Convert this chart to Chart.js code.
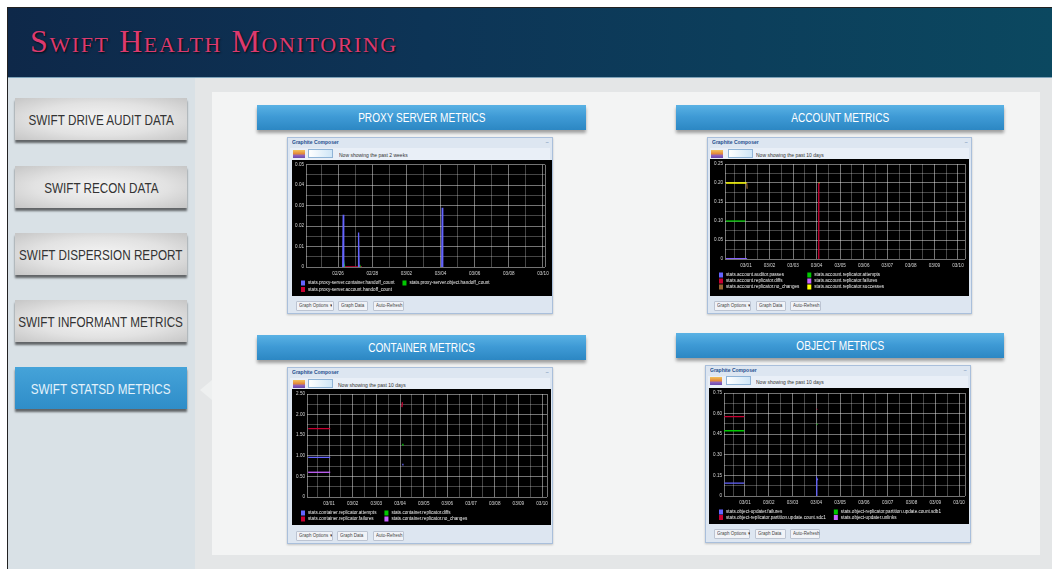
<!DOCTYPE html>
<html><head><meta charset="utf-8">
<script src="https://cdn.jsdelivr.net/npm/chart.js@4"></script>
<style>
html,body{margin:0;padding:0;}
body{width:1052px;height:569px;position:relative;overflow:hidden;background:#fff;font-family:"Liberation Sans",Arial,sans-serif;}
.abs{position:absolute;}
#frame{left:7px;top:7px;width:1045px;height:562px;border-left:1px solid #222;border-top:1px solid #222;box-sizing:border-box;}
#header{left:8px;top:8px;width:1044px;height:69px;background:linear-gradient(90deg,#0e2849 0%,#0d3456 40%,#0b4860 100%);border-bottom:1px solid #7ea3ba;}
#title{left:30px;top:25px;font-family:"Liberation Serif","DejaVu Serif",serif;font-variant:small-caps;font-size:32px;line-height:1;color:#dc3a6f;letter-spacing:1.6px;text-shadow:1px 1px 2px rgba(0,0,0,.8);white-space:nowrap;}
#sidebar{left:8px;top:78px;width:187px;height:491px;background:#d9e1e6;}
#main{left:195px;top:78px;width:857px;height:491px;background:#e4e6e7;}
#panel{left:212px;top:92px;width:828px;height:463px;background:#f3f4f4;}
#arrow{left:200px;top:380px;width:0;height:0;border-top:10px solid transparent;border-bottom:10px solid transparent;border-right:12px solid #eef0f0;}
.btn{left:15px;width:172px;height:42px;background:radial-gradient(ellipse at center,#f4f4f4 0%,#e2e2e2 55%,#c6c6c6 100%);box-shadow:0 3px 2px rgba(0,0,0,.55);display:flex;align-items:center;justify-content:center;}
.btn span{display:block;font-size:15px;color:#333;transform:scaleX(0.78);white-space:nowrap;}
.btn.sel{background:linear-gradient(#45a3d9,#2f8dc8);}
.btn.sel span{color:#e4f2fb;}
.rib{height:25px;background:linear-gradient(#5ab2e4 0%,#3f9bd6 45%,#2c87c3 100%);box-shadow:0 3px 3px rgba(0,0,0,.35);display:flex;align-items:center;justify-content:center;}
.rib span{display:block;color:#fff;font-size:12px;transform:scaleX(0.84);white-space:nowrap;}
.win{background:#dde6f1;border:1px solid #a9bfdb;box-sizing:border-box;box-shadow:0 1px 2px rgba(0,0,0,.2);}
.wt{position:absolute;left:4px;top:1px;font-size:10px;font-weight:bold;color:#1f4f8e;transform:scale(.5);transform-origin:0 0;white-space:nowrap;}
.wx{position:absolute;right:3px;top:1px;font-size:10px;color:#5a7eaa;transform:scale(.5);transform-origin:100% 0;}
.tb{position:absolute;left:2px;right:2px;top:10px;height:12px;background:#e9eff7;}
.ic1{position:absolute;width:12px;height:8px;background:linear-gradient(#f3c25a 0%,#e48a3a 45%,#8a5fc0 70%,#6a4aa8 100%);}
.ic2{position:absolute;width:25px;height:9px;background:linear-gradient(90deg,#ffffff,#cfe6f7);border:1px solid #8fb3d6;box-sizing:border-box;}
.tt{position:absolute;font-size:10px;color:#333;transform:scale(.5);transform-origin:0 0;white-space:nowrap;}
.gb{position:absolute;height:10px;background:#f1f3f7;border:1px solid #bcc4d2;box-sizing:border-box;border-radius:1px;}
.gb span{position:absolute;left:2px;top:1px;font-size:10px;color:#444;transform:scale(.45);transform-origin:0 0;white-space:nowrap;}
canvas{position:absolute;background:#000;}
</style></head>
<body>
<div id="frame" class="abs"></div>
<div id="header" class="abs"></div>
<div id="title" class="abs">Swift Health Monitoring</div>
<div id="sidebar" class="abs"></div>
<div id="main" class="abs"></div>
<div id="panel" class="abs"></div>
<div id="arrow" class="abs"></div>

<div class="abs btn" style="top:98px"><span>SWIFT DRIVE AUDIT DATA</span></div>
<div class="abs btn" style="top:166px"><span>SWIFT RECON DATA</span></div>
<div class="abs btn" style="top:233px"><span>SWIFT DISPERSION REPORT</span></div>
<div class="abs btn" style="top:300px"><span>SWIFT INFORMANT METRICS</span></div>
<div class="abs btn sel" style="top:367px"><span>SWIFT STATSD METRICS</span></div>

<div class="abs rib" style="left:257px;top:105px;width:329px"><span>PROXY SERVER METRICS</span></div>
<div class="abs rib" style="left:676px;top:105px;width:328px"><span>ACCOUNT METRICS</span></div>
<div class="abs rib" style="left:257px;top:335px;width:329px"><span>CONTAINER METRICS</span></div>
<div class="abs rib" style="left:676px;top:333px;width:328px"><span>OBJECT METRICS</span></div>

<!-- windows -->
<div class="abs win" style="left:287px;top:137px;width:266px;height:177px">
  <div class="wt">Graphite Composer</div><div class="wx">–</div>
  <div class="tb"></div>
  <div class="ic1" style="left:5px;top:12px"></div><div class="ic2" style="left:20px;top:11px"></div>
  <div class="tt" style="left:51px;top:14px">Now showing the past 2 weeks</div>
  <div class="gb" style="left:8px;top:163px;width:38px"><span>Graph Options ▾</span></div>
  <div class="gb" style="left:50px;top:163px;width:30px"><span>Graph Data</span></div>
  <div class="gb" style="left:85px;top:163px;width:31px"><span>Auto-Refresh</span></div>
</div>
<div class="abs win" style="left:707px;top:137px;width:265px;height:177px">
  <div class="wt">Graphite Composer</div><div class="wx">–</div>
  <div class="tb"></div>
  <div class="ic1" style="left:3px;top:12px"></div><div class="ic2" style="left:20px;top:11px"></div>
  <div class="tt" style="left:48px;top:14px">Now showing the past 10 days</div>
  <div class="gb" style="left:6px;top:163px;width:37px"><span>Graph Options ▾</span></div>
  <div class="gb" style="left:48px;top:163px;width:30px"><span>Graph Data</span></div>
  <div class="gb" style="left:82px;top:163px;width:31px"><span>Auto-Refresh</span></div>
</div>
<div class="abs win" style="left:287px;top:367px;width:266px;height:177px">
  <div class="wt">Graphite Composer</div><div class="wx">–</div>
  <div class="tb"></div>
  <div class="ic1" style="left:5px;top:12px"></div><div class="ic2" style="left:20px;top:11px"></div>
  <div class="tt" style="left:50px;top:14px">Now showing the past 10 days</div>
  <div class="gb" style="left:8px;top:163px;width:37px"><span>Graph Options ▾</span></div>
  <div class="gb" style="left:49px;top:163px;width:31px"><span>Graph Data</span></div>
  <div class="gb" style="left:85px;top:163px;width:31px"><span>Auto-Refresh</span></div>
</div>
<div class="abs win" style="left:705px;top:365px;width:266px;height:178px">
  <div class="wt">Graphite Composer</div><div class="wx">–</div>
  <div class="tb"></div>
  <div class="ic1" style="left:4px;top:11px"></div><div class="ic2" style="left:20px;top:10px"></div>
  <div class="tt" style="left:50px;top:13px">Now showing the past 10 days</div>
  <div class="gb" style="left:8px;top:163px;width:36px"><span>Graph Options ▾</span></div>
  <div class="gb" style="left:49px;top:163px;width:31px"><span>Graph Data</span></div>
  <div class="gb" style="left:84px;top:163px;width:30px"><span>Auto-Refresh</span></div>
</div>

<canvas id="cProxy" width="260" height="136" style="left:292px;top:160px"></canvas>
<canvas id="cAccount" width="259" height="137" style="left:710px;top:159px"></canvas>
<canvas id="cContainer" width="259" height="136" style="left:292px;top:389px"></canvas>
<canvas id="cObject" width="260" height="136" style="left:709px;top:388px"></canvas>

<script>
// ================= DATA =================
// x values are day numbers (02/26 = 2 ... 03/10 = 14 for proxy; 03/01 = 1 ... 03/10 = 10 for others)
const proxyXTickDays   = [2, 4, 6, 8, 10, 12, 14];
const proxyXTickLabels = ['02/26', '02/28', '03/02', '03/04', '03/06', '03/08', '03/10'];
const proxyYTickValues = [0, 0.01, 0.02, 0.03, 0.04, 0.05];
const proxyYTickLabels = ['0', '0.01', '0.02', '0.03', '0.04', '0.05'];
const proxySeriesLabels = [
  'stats.proxy-server.container.handoff_count',
  'stats.proxy-server.object.handoff_count',
  'stats.proxy-server.account.handoff_count'
];
const proxyContainerHandoff = [[2.27,0],[2.3,0.0256],[2.33,0],[2.8,null],[3.17,0],[3.2,0.0169],[3.23,0],[5,null],[8.07,0],[8.1,0.029],[8.13,0]];
const proxyObjectHandoff    = [[2.33,0],[2.35,0.0012],[2.37,0],[2.8,null],[3.25,0],[3.27,0.001],[3.29,0]];
const proxyAccountHandoff   = [[2.25,0],[3.4,0]];

const tenDayXTickDays   = [1, 2, 3, 4, 5, 6, 7, 8, 9, 10];
const tenDayXTickLabels = ['03/01', '03/02', '03/03', '03/04', '03/05', '03/06', '03/07', '03/08', '03/09', '03/10'];

const accountYTickValues = [0, 0.05, 0.10, 0.15, 0.20, 0.25];
const accountYTickLabels = ['0', '0.05', '0.10', '0.15', '0.20', '0.25'];
const accountSeriesLabels = [
  'stats.account.auditor.passes',
  'stats.account.replicator.attempts',
  'stats.account.replicator.diffs',
  'stats.account.replicator.failures',
  'stats.account.replicator.no_changes',
  'stats.account.replicator.successes'
];
const accountAuditorPasses     = [[0.15,0],[1.05,0]];
const accountReplAttempts      = [[0.15,0.10],[0.97,0.10]];
const accountReplDiffs         = [[4.07,0],[4.09,0.2]];
const accountReplFailures      = [[0.15,0.001],[1.03,0.001]];
const accountReplNoChanges     = [[1.03,0.2],[1.05,0.185]];
const accountReplSuccesses     = [[0.15,0.2],[1.03,0.2],[2,null],[4.09,0.2],[4.12,0.2]];

const containerYTickValues = [0, 0.5, 1.0, 1.5, 2.0, 2.5];
const containerYTickLabels = ['0', '0.50', '1.00', '1.50', '2.00', '2.50'];
const containerSeriesLabels = [
  'stats.container.replicator.attempts',
  'stats.container.replicator.diffs',
  'stats.container.replicator.failures',
  'stats.container.replicator.no_changes'
];
const containerReplAttempts  = [[0.12,0.96],[1.05,0.96],[2,null],[4.1,0.78],[4.12,0.81]];
const containerReplDiffs     = [[4.1,1.26],[4.12,1.29]];
const containerReplFailures  = [[0.12,1.66],[1.05,1.66],[2,null],[4.08,2.18],[4.1,2.3]];
const containerReplNoChanges = [[0.12,0.6],[1.05,0.6]];

const objectYTickValues = [0, 0.15, 0.30, 0.45, 0.60, 0.75];
const objectYTickLabels = ['0', '0.15', '0.30', '0.45', '0.60', '0.75'];
const objectSeriesLabels = [
  'stats.object-updater.failures',
  'stats.object-replicator.partition.update.count.sdb1',
  'stats.object-replicator.partition.update.count.sdc1',
  'stats.object-updater.unlinks'
];
const objectUpdaterFailures = [[0.13,0.094],[0.97,0.094],[2,null],[4.0,0],[4.02,0.13],[4.06,0.115]];
const objectSdb1            = [[0.13,0.475],[0.97,0.475],[2,null],[4.02,0.52],[4.04,0.525]];
const objectSdc1            = [[0.13,0.578],[0.97,0.578],[2,null],[4.02,0.63],[4.04,0.635]];
const objectUnlinks         = [];

// ================= STYLE =================
const gColors = ['#6464ff', '#00c800', '#c80032', '#c864ff', '#966432', '#ffff00'];
Chart.defaults.font.family = '"Liberation Sans", Arial, sans-serif';

function stepTicks(min, max, step) {
  const a = [min];
  const n0 = Math.ceil(min / step - 1e-9);
  for (let n = n0; n * step < max - 1e-9; n++) {
    const v = +(n * step).toFixed(6);
    if (v > min + 1e-9) a.push(v);
  }
  a.push(max);
  return a;
}
function labelFor(vals, labels, v) {
  const i = vals.findIndex(t => Math.abs(t - v) < 1e-6);
  return i >= 0 ? labels[i] : '';
}

const gLegend = {
  id: 'gLegend',
  afterDraw(chart, args, o) {
    const c = chart.ctx, ds = chart.data.datasets;
    c.save();
    c.font = o.fontSize + 'px "Liberation Sans", Arial';
    c.textBaseline = 'middle';
    let w = 0;
    ds.forEach((d, i) => { if (i % 2 === 0) w = Math.max(w, c.measureText(d.label).width); });
    const x1 = o.x, x2 = o.x + o.box + o.gap + w + o.colGap;
    ds.forEach((d, i) => {
      const x = (i % 2) ? x2 : x1;
      const y = chart.chartArea.bottom + o.top + Math.floor(i / 2) * o.row;
      c.fillStyle = d.borderColor;
      c.fillRect(x, y - 2.5, o.box, 5);
      c.fillStyle = '#f0f0f0';
      c.fillText(d.label, x + o.box + o.gap, y);
    });
    c.restore();
  }
};

function graphite(id, g) {
  const datasets = g.series.map((s, i) => ({
    label: g.labels[i],
    data: s.map(p => ({ x: p[0], y: p[1] })),
    borderColor: gColors[i], backgroundColor: gColors[i],
    borderWidth: 1.3, pointRadius: 0, spanGaps: false, tension: 0
  }));
  const majorC = 'rgba(230,230,230,0.5)', minorC = 'rgba(230,230,230,0.3)';
  const isXMajor = v => g.xVals.some(t => Math.abs(t - v) < 1e-6) || Math.abs(v - g.xMin) < 1e-6 || Math.abs(v - g.xMax) < 1e-6;
  const isYMajor = v => g.yVals.some(t => Math.abs(t - v) < 1e-6);
  new Chart(document.getElementById(id), {
    type: 'line',
    data: { datasets },
    options: {
      responsive: false, animation: false, devicePixelRatio: 1,
      layout: { padding: { left: 0, top: g.padTop, right: g.padRight, bottom: g.padBottom } },
      plugins: { legend: { display: false }, tooltip: { enabled: false }, gLegend: g.legend },
      scales: {
        x: {
          type: 'linear', min: g.xMin, max: g.xMax,
          afterBuildTicks: ax => { ax.ticks = stepTicks(g.xMin, g.xMax, g.xMinor).map(v => ({ value: v })); },
          afterFit: s => { s.height = g.xAxisH; },
          border: { display: false },
          grid: { drawTicks: false, lineWidth: 1, color: c => isXMajor(c.tick.value) ? majorC : minorC },
          ticks: { autoSkip: false, maxRotation: 0, padding: 4, color: '#d8d8d8', font: { size: 4.6 },
                   callback: v => labelFor(g.xVals, g.xLabels, v) }
        },
        y: {
          min: 0, max: g.yVals[g.yVals.length - 1],
          afterBuildTicks: ax => { ax.ticks = stepTicks(0, g.yVals[g.yVals.length - 1], g.yMinor).map(v => ({ value: v })); },
          afterFit: s => { s.width = g.yAxisW; },
          border: { display: false },
          grid: { drawTicks: false, lineWidth: 1, color: c => isYMajor(c.tick.value) ? majorC : minorC },
          ticks: { autoSkip: false, padding: 2, color: '#d8d8d8', font: { size: 4.6 },
                   callback: v => labelFor(g.yVals, g.yLabels, v) }
        }
      }
    },
    plugins: [gLegend]
  });
}

graphite('cProxy', {
  series: [proxyContainerHandoff, proxyObjectHandoff, proxyAccountHandoff],
  labels: proxySeriesLabels,
  xMin: 0.12, xMax: 14.12, xMinor: 1, xVals: proxyXTickDays, xLabels: proxyXTickLabels,
  yVals: proxyYTickValues, yLabels: proxyYTickLabels, yMinor: 0.005,
  yAxisW: 14, xAxisH: 12, padTop: 4, padRight: 7, padBottom: 17,
  legend: { x: 9, top: 16, row: 6.5, box: 4, gap: 3, colGap: 8, fontSize: 4.6 }
});
graphite('cAccount', {
  series: [accountAuditorPasses, accountReplAttempts, accountReplDiffs, accountReplFailures, accountReplNoChanges, accountReplSuccesses],
  labels: accountSeriesLabels,
  xMin: 0.11, xMax: 10.3, xMinor: 0.5, xVals: tenDayXTickDays, xLabels: tenDayXTickLabels,
  yVals: accountYTickValues, yLabels: accountYTickLabels, yMinor: 0.025,
  yAxisW: 15, xAxisH: 12, padTop: 5, padRight: 4, padBottom: 25,
  legend: { x: 9, top: 16, row: 6, box: 4, gap: 3, colGap: 8, fontSize: 4.6 }
});
graphite('cContainer', {
  series: [containerReplAttempts, containerReplDiffs, containerReplFailures, containerReplNoChanges],
  labels: containerSeriesLabels,
  xMin: 0.07, xMax: 10.21, xMinor: 0.5, xVals: tenDayXTickDays, xLabels: tenDayXTickLabels,
  yVals: containerYTickValues, yLabels: containerYTickLabels, yMinor: 0.25,
  yAxisW: 15, xAxisH: 12, padTop: 5, padRight: 4, padBottom: 16,
  legend: { x: 9, top: 16, row: 6, box: 4, gap: 3, colGap: 8, fontSize: 4.6 }
});
graphite('cObject', {
  series: [objectUpdaterFailures, objectSdb1, objectSdc1, objectUnlinks],
  labels: objectSeriesLabels,
  xMin: 0.12, xMax: 10.25, xMinor: 0.5, xVals: tenDayXTickDays, xLabels: tenDayXTickLabels,
  yVals: objectYTickValues, yLabels: objectYTickLabels, yMinor: 0.075,
  yAxisW: 15, xAxisH: 12, padTop: 5, padRight: 3, padBottom: 16,
  legend: { x: 10, top: 16, row: 5.5, box: 4, gap: 3, colGap: 8, fontSize: 4.6 }
});
</script>
</body></html>
